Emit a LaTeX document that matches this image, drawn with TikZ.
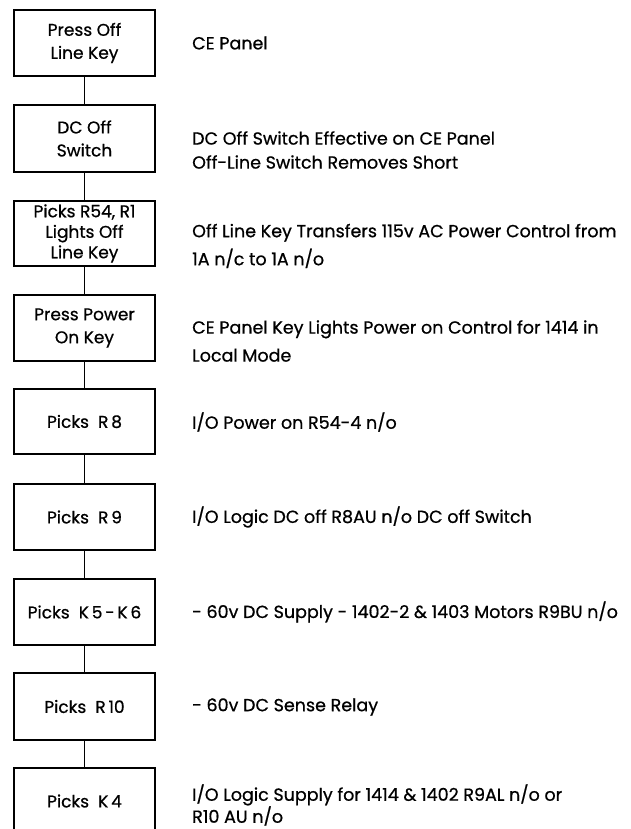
\documentclass[tikz,border=0pt]{standalone}
\usepackage{fontspec}
\setmainfont{Poppins}[FakeBold=0.7]
\begin{document}
\begin{tikzpicture}[x=1pt,y=-1pt,
  stepbox/.style={draw=black,line width=2.5pt,outer sep=0pt,minimum width=141pt,inner sep=0pt,align=center,
    font=\fontsize{17}{23}\selectfont},
  desc/.style={anchor=west,align=left,inner sep=0pt,font=\fontsize{17.5}{23}\selectfont},
  link/.style={line width=1.9pt}]
\clip (0,0) rectangle (630,829);
\fill[white] (0,0) rectangle (630,829);
\node[stepbox,minimum height=66pt] (b1) at (84.5,43) {Press Off\\Line Key};
\node[stepbox,minimum height=67pt] (b2) at (84.5,138.5) {DC Off\\Switch};
\node[stepbox,minimum height=65pt,font=\fontsize{17}{20.5}\selectfont] (b3) at (84.5,233.5) {Picks R54, R1\\Lights Off\\Line Key};
\node[stepbox,minimum height=66pt] (b4) at (84.5,328) {Press Power\\On Key};
\node[stepbox,minimum height=65pt] (b5) at (84.5,421.5) {Picks\ \ R\,8};
\node[stepbox,minimum height=66pt] (b6) at (84.5,517) {Picks\ \ R\,9};
\node[stepbox,minimum height=66pt] (b7) at (84.5,612) {Picks\ \ K\,5\,-\,K\,6};
\node[stepbox,minimum height=67pt] (b8) at (84.5,706.5) {Picks\ \ R\,10};
\node[stepbox,minimum height=66pt] (b9) at (84.5,801) {Picks\ \ K\,4};
\draw[line width=2.5pt] (b9.north west) -- ++(0,80);
\draw[line width=2.5pt] (b9.north east) -- ++(0,80);
\foreach \a/\b in {b1/b2,b2/b3,b3/b4,b4/b5,b5/b6,b6/b7,b7/b8,b8/b9}
  \draw[link] (\a.south) -- (\b.north);
\node[desc] (d1) at (192,43) {CE Panel};
\node[desc,font=\fontsize{17.5}{24}\selectfont] (d2) at (192,150) {DC Off Switch Effective on CE Panel\\Off-Line Switch Removes Short};
\node[desc,font=\fontsize{17.5}{28}\selectfont] (d3) at (192,246) {Off Line Key Transfers 115v AC Power Control from\\1A n/c to 1A n/o};
\node[desc,font=\fontsize{17.5}{28}\selectfont] (d4) at (192,341) {CE Panel Key Lights Power on Control for 1414 in\\Local Mode};
\node[desc] (d5) at (192,422) {I/O Power on R54-4 n/o};
\node[desc] (d6) at (192,517) {I/O Logic DC off R8AU n/o DC off Switch};
\node[desc] (d7) at (192,612) {- 60v DC Supply - 1402-2 \& 1403 Motors R9BU n/o};
\node[desc] (d8) at (192,707) {- 60v DC Sense Relay};
\node[desc,font=\fontsize{17.5}{22}\selectfont] (d9) at (192,805) {I/O Logic Supply for 1414 \& 1402 R9AL n/o or\\R10 AU n/o};
\end{tikzpicture}
\end{document}
